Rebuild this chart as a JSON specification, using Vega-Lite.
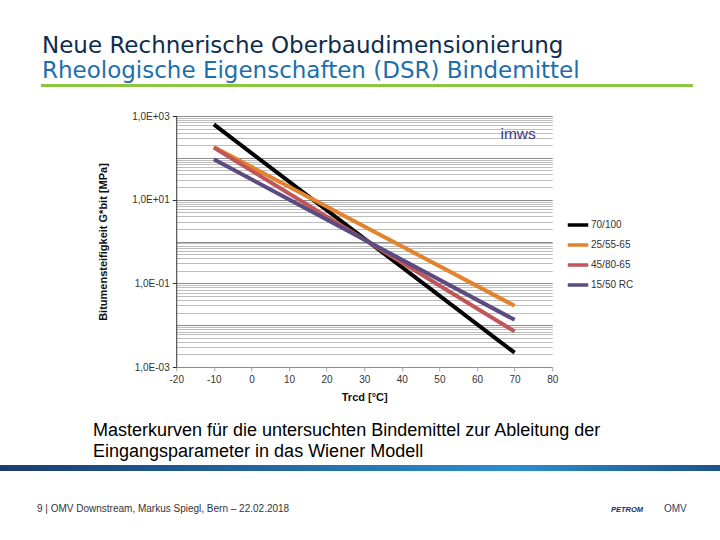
{
  "$schema": "https://vega.github.io/schema/vega-lite/v6.json",
  "background": "white",
  "padding": {"left": 0, "right": 0, "top": 34, "bottom": 0},
  "config": {"view": {"stroke": null}, "font": "Liberation Sans"},
  "spacing": 20,
  "center": true,
  "vconcat": [
    {
      "width": 652,
      "height": 3,
      "view": {"fill": "#8dc63f", "stroke": null},
      "title": {
        "text": "Neue Rechnerische Oberbaudimensionierung",
        "subtitle": "Rheologische Eigenschaften (DSR) Bindemittel",
        "anchor": "start",
        "dx": 1,
        "offset": -3,
        "font": "DejaVu Sans",
        "fontSize": 23,
        "fontWeight": "normal",
        "color": "#0d2d50",
        "subtitleFont": "DejaVu Sans",
        "subtitleFontSize": 23,
        "subtitleColor": "#1b6fae",
        "subtitlePadding": 2
      },
      "data": {"values": [{"t": ""}]},
      "mark": {"type": "text"},
      "encoding": {"text": {"field": "t"}}
    },
    {
      "width": 376,
      "height": 251,
      "title": {
        "text": "imws",
        "anchor": "end",
        "dx": -22,
        "offset": -43,
        "baseline": "alphabetic",
        "font": "Liberation Sans",
        "fontSize": 15.5,
        "fontWeight": "normal",
        "color": "#3b3b85"
      },
      "data": {
        "values": [
          {"Bindemittel": "70/100", "T": -10, "G": 630},
          {"Bindemittel": "70/100", "T": 70, "G": 0.0022},
          {"Bindemittel": "25/55-65", "T": -10, "G": 182},
          {"Bindemittel": "25/55-65", "T": 70, "G": 0.029},
          {"Bindemittel": "45/80-65", "T": -10, "G": 175},
          {"Bindemittel": "45/80-65", "T": 70, "G": 0.0071},
          {"Bindemittel": "15/50 RC", "T": -10, "G": 92},
          {"Bindemittel": "15/50 RC", "T": 70, "G": 0.0134}
        ]
      },
      "mark": {"type": "line", "strokeWidth": 4, "strokeCap": "butt"},
      "encoding": {
        "x": {
          "field": "T",
          "type": "quantitative",
          "scale": {"domain": [-20, 80], "nice": false},
          "axis": {
            "values": [-20, -10, 0, 10, 20, 30, 40, 50, 60, 70, 80],
            "format": "d",
            "labelExpr": "replace(datum.label, '−', '-')",
            "labelFlush": false,
            "title": "Trcd [°C]",
            "titleFontSize": 11,
            "titleFontWeight": "bold",
            "titleColor": "#111",
            "titlePadding": 7,
            "labelFontSize": 10,
            "labelColor": "#333",
            "labelPadding": 3,
            "grid": false,
            "domain": false,
            "tickSize": 4,
            "tickColor": "#aaa"
          }
        },
        "y": {
          "field": "G",
          "type": "quantitative",
          "scale": {"type": "log", "domain": [0.001, 1000], "nice": false},
          "axis": {
            "values": [0.001, 0.002, 0.003, 0.004, 0.005, 0.006, 0.007, 0.008, 0.009,
                       0.01, 0.02, 0.03, 0.04, 0.05, 0.06, 0.07, 0.08, 0.09,
                       0.1, 0.2, 0.3, 0.4, 0.5, 0.6, 0.7, 0.8, 0.9,
                       1, 2, 3, 4, 5, 6, 7, 8, 9,
                       10, 20, 30, 40, 50, 60, 70, 80, 90,
                       100, 200, 300, 400, 500, 600, 700, 800, 900, 1000],
            "labelExpr": "datum.value == 1000 ? '1,0E+03' : datum.value == 10 ? '1,0E+01' : datum.value == 0.1 ? '1,0E-01' : datum.value == 0.001 ? '1,0E-03' : ''",
            "labelOverlap": false,
            "labelFontSize": 10,
            "labelColor": "#333",
            "labelPadding": 3,
            "title": "Bitumensteifigkeit G*bit [MPa]",
            "titleFontSize": 11,
            "titleFontWeight": "bold",
            "titleColor": "#111",
            "titlePadding": 23,
            "grid": true,
            "gridColor": {"condition": {"test": "datum.value == 1000 || datum.value == 100 || datum.value == 10 || datum.value == 1 || datum.value == 0.1 || datum.value == 0.01 || datum.value == 0.001", "value": "#8c8c8c"}, "value": "#bdbdbd"},
            "gridWidth": 1,
            "domainColor": "#333",
            "tickSize": 4,
            "tickColor": "#333",
            "tickOpacity": {"condition": {"test": "datum.value == 1000 || datum.value == 10 || datum.value == 0.1 || datum.value == 0.001", "value": 1}, "value": 0}
          }
        },
        "color": {
          "field": "Bindemittel",
          "type": "nominal",
          "scale": {
            "domain": ["70/100", "25/55-65", "45/80-65", "15/50 RC"],
            "range": ["#000000", "#e3832d", "#c0565a", "#5a4c80"]
          },
          "legend": {
            "orient": "none",
            "legendX": 566,
            "legendY": 129,
            "title": null,
            "symbolType": "stroke",
            "symbolSize": 420,
            "symbolStrokeWidth": 3.5,
            "labelFontSize": 10,
            "labelColor": "#333",
            "labelOffset": 1,
            "rowPadding": 1
          }
        }
      }
    },
    {
      "width": 734,
      "height": 6,
      "view": {
        "fill": {
          "gradient": "linear",
          "x1": 0, "x2": 1, "y1": 0, "y2": 0,
          "stops": [
            {"offset": 0, "color": "#1b3c70"},
            {"offset": 0.7, "color": "#2a8fcf"},
            {"offset": 1, "color": "#1c4e86"}
          ]
        },
        "stroke": null
      },
      "title": {
        "text": ["Masterkurven für die untersuchten Bindemittel zur Ableitung der", "Eingangsparameter in das Wiener Modell"],
        "anchor": "start",
        "dx": 93,
        "offset": 1,
        "font": "Liberation Sans",
        "fontSize": 18,
        "lineHeight": 21,
        "fontWeight": "normal",
        "color": "#000"
      },
      "data": {"values": [{"t": ""}]},
      "mark": {"type": "text"},
      "encoding": {"text": {"field": "t"}}
    },
    {
      "spacing": 0,
      "hconcat": [
        {
          "width": 604,
          "height": 4,
          "title": {
            "text": "9 | OMV Downstream, Markus Spiegl, Bern – 22.02.2018",
            "orient": "bottom",
            "anchor": "start",
            "dx": 30,
            "offset": 0,
            "font": "Liberation Sans",
            "fontSize": 10,
            "fontWeight": "normal",
            "color": "#333"
          },
          "data": {"values": [{"t": ""}]},
          "mark": {"type": "text"},
          "encoding": {"text": {"field": "t"}}
        },
        {
          "width": 53,
          "height": 4,
          "title": {
            "text": "PETROM",
            "orient": "bottom",
            "anchor": "start",
            "offset": 2,
            "font": "Liberation Sans",
            "fontSize": 7.5,
            "fontWeight": "bold",
            "fontStyle": "italic",
            "color": "#1b2f6e"
          },
          "data": {"values": [{"t": ""}]},
          "mark": {"type": "text"},
          "encoding": {"text": {"field": "t"}}
        },
        {
          "width": 63,
          "height": 4,
          "title": {
            "text": "OMV",
            "orient": "bottom",
            "anchor": "start",
            "offset": 0,
            "font": "Liberation Sans",
            "fontSize": 10,
            "fontWeight": "normal",
            "color": "#2a3f66"
          },
          "data": {"values": [{"t": ""}]},
          "mark": {"type": "text"},
          "encoding": {"text": {"field": "t"}}
        }
      ]
    }
  ]
}
